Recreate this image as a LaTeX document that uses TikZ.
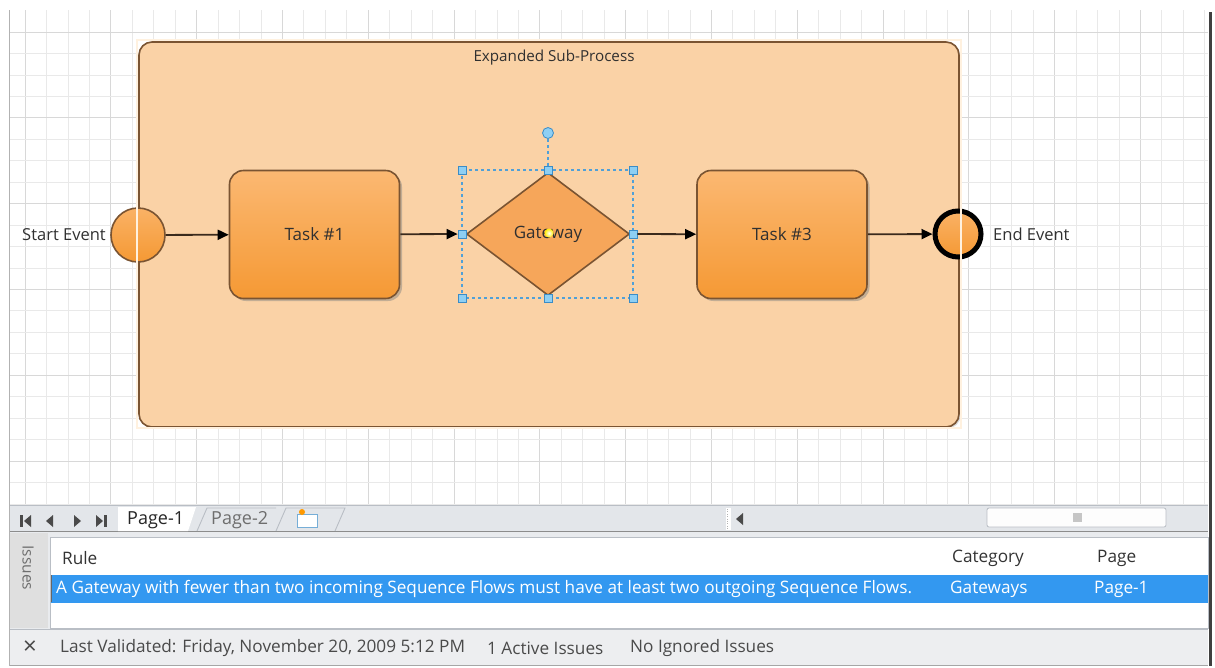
\documentclass[tikz,border=0pt]{standalone}
\usepackage{fontspec}
\setmainfont{Open Sans}
\usetikzlibrary{shapes.geometric,arrows.meta,shadows,calc}
\definecolor{gridminor}{HTML}{E9E9E9}
\definecolor{gridmajor}{HTML}{D8D8D8}
\definecolor{subfill}{HTML}{FAD2A6}
\definecolor{brown}{HTML}{7A5432}
\definecolor{flow}{HTML}{3A2A1C}
\definecolor{tasktop}{HTML}{FBB872}
\definecolor{taskbot}{HTML}{F59934}
\definecolor{gwfill}{HTML}{F6A65A}
\definecolor{selblue}{HTML}{4FA0D8}
\definecolor{handlefill}{HTML}{8ECFF3}
\definecolor{handledraw}{HTML}{3B8CC6}
\definecolor{labelgray}{HTML}{303030}
\definecolor{uibar}{HTML}{E3E6EA}
\definecolor{uiline}{HTML}{B9BEC5}
\definecolor{rowblue}{HTML}{3398F0}
\definecolor{statusbg}{HTML}{EDEEF0}
\definecolor{uitext}{HTML}{4A4A4A}
\definecolor{boxlight}{HTML}{FFF1DF}
\tikzset{
  flowline/.style={draw=flow, line width=1.8pt, -{Triangle[length=11pt,width=10pt,fill=black,color=black]}},
  taskbox/.style={rectangle, rounded corners=14pt, draw=brown, line width=1.6pt,
    top color=tasktop, bottom color=taskbot, minimum width=170pt, minimum height=128pt,
    font=\fontsize{17}{19}\selectfont, text=labelgray,
    drop shadow={opacity=0.45, shadow xshift=2.5pt, shadow yshift=-2.5pt}},
  eventbase/.style={circle, inner sep=0pt, top color=tasktop!80!taskbot, bottom color=taskbot},
  handle/.style={rectangle, draw=handledraw, fill=handlefill, line width=0.8pt, minimum size=8pt, inner sep=0pt},
  difflabel/.style={font=\fontsize{16.5}{18}\selectfont, text=labelgray},
  uilabel/.style={font=\fontsize{17.2}{19}\selectfont, text=uitext, anchor=west, inner sep=0pt},
}
\begin{document}
\begin{tikzpicture}[x=1pt,y=-1pt]
\useasboundingbox (0,0) rectangle (1215,667);
\fill[white] (0,0) rectangle (1215,667);
% drawing page grid
\foreach \i in {0,...,55}{
  \pgfmathsetmacro\xx{25+21.45*\i}
  \pgfmathtruncatemacro\mm{mod(\i,4)}
  \ifnum\mm=0 \draw[gridmajor,line width=0.8pt] (\xx,10) -- (\xx,505);
  \else \draw[gridminor,line width=0.8pt] (\xx,10) -- (\xx,505); \fi
}
\foreach \j in {0,...,22}{
  \pgfmathsetmacro\yy{32+21.45*\j}
  \pgfmathtruncatemacro\mm{mod(\j,4)}
  \ifnum\mm=0 \draw[gridmajor,line width=0.8pt] (10,\yy) -- (1208,\yy);
  \else \draw[gridminor,line width=0.8pt] (10,\yy) -- (1208,\yy); \fi
}
% window edges
\draw[gray!60, line width=1.5pt] (9.5,10) -- (9.5,666);
\draw[black!75, line width=3pt] (1210,12) -- (1210,666);

% expanded sub-process
\node[rectangle, rounded corners=13pt, draw=brown, line width=1.6pt, fill=subfill,
  minimum width=820pt, minimum height=385pt,
  drop shadow={opacity=0.3, shadow xshift=1.5pt, shadow yshift=-1.5pt}] (sub) at (549,234.5) {};
\node[font=\fontsize{15.2}{17}\selectfont, text=labelgray, anchor=center] (sublabel) at (554,58) {Expanded Sub-Process};

% events
\node[eventbase, draw=brown, line width=1.6pt, minimum size=54pt] (start) at (138,235) {};
\node[difflabel, anchor=east, inner sep=0pt] (startlabel) at (106,235) {Start Event};
\node[eventbase, draw=black, line width=5pt, minimum size=46pt] (end) at (958,234) {};
\node[difflabel, anchor=west, inner sep=0pt] (endlabel) at (993,234) {End Event};

% tasks
\node[taskbox] (t1) at (314.5,234.5) {Task \#1};
\node[taskbox] (t3) at (782,234.5) {Task \#3};

% gateway
\node[diamond, draw=brown, line width=1.6pt, fill=gwfill, inner sep=0pt,
  minimum width=163pt, minimum height=123pt, font=\fontsize{17}{19}\selectfont, text=labelgray] (gw) at (548,234) {Gateway};

% selection box of the gateway
\coordinate (snw) at (462,170);
\coordinate (sse) at (633,298);
\draw[selblue, line width=1.1pt, dash pattern=on 3pt off 3pt] (snw) rectangle (sse);
\node[circle, draw=handledraw, fill=handlefill, line width=0.8pt, minimum size=11pt, inner sep=0pt] (rot) at (548,133) {};
\node[handle] (hn) at (548,170) {};
\draw[selblue, line width=1.1pt, dash pattern=on 3pt off 3pt] (rot) -- (hn);
\node[handle] (hnw) at (462,170) {};
\node[handle] (hne) at (633,170) {};
\node[handle] (hw) at (462,234) {};
\node[handle] (he) at (633,234) {};
\node[handle] (hsw) at (462,298) {};
\node[handle] (hs) at (548,298) {};
\node[handle] (hse) at (633,298) {};
\node[circle, inner sep=0pt, minimum size=9pt, inner color=white, outer color=yellow!85!orange] (pin) at (549,233) {};

% sequence flows
\draw[flowline] (start) -- (t1);
\draw[flowline] (t1) -- (hw);
\draw[flowline] (he) -- (t3);
\draw[flowline] (t3) -- (end);

% alignment box of the sub-process
\draw[boxlight, line width=1.3pt] (137,40) rectangle (961,428);

% ---------- page tabs ----------
\fill[uibar] (10,505) rectangle (1208,532);
\draw[uiline, line width=0.8pt] (10,505.5) -- (1208,505.5);
\draw[black!45, line width=1.5pt] (10,531.5) -- (1208,531.5);
\fill[uitext] (20,515) rectangle (23,527);
\fill[uitext] (24,521) -- (31,515) -- (31,527) -- cycle;
\fill[uitext] (46,521) -- (53,515) -- (53,527) -- cycle;
\fill[uitext] (81,521) -- (74,515) -- (74,527) -- cycle;
\fill[uitext] (103,521) -- (96,515) -- (96,527) -- cycle;
\fill[uitext] (104,515) rectangle (107,527);
\fill[white] (118,507) -- (196,507) -- (188,531) -- (118,531) -- cycle;
\node[font=\fontsize{18}{20}\selectfont, text=black!85, anchor=west, inner sep=0pt] (p1) at (127,520) {Page-1};
\draw[uiline, line width=0.9pt] (197,531) -- (207,508) -- (276,508);
\node[font=\fontsize{18}{20}\selectfont, text=uitext!80, anchor=west, inner sep=0pt] (p2) at (211,520) {Page-2};
\draw[uiline, line width=0.9pt] (276,531) -- (286,508) -- (345,508) -- (335,531);
\fill[white] (297,514) rectangle (317,527);
\draw[handledraw!70, line width=0.8pt] (297,514) rectangle (317,527);
\fill[orange!80!yellow] (302,512) circle (3pt);
% scroll area
\fill[white] (726,508) rectangle (731,530);
\draw[gray!60, dotted] (727,509) -- (727,529);
\fill[uitext] (736,519) -- (743,513) -- (743,525) -- cycle;
\draw[uiline, line width=0.8pt, fill=white!92!uibar, rounded corners=2pt] (987,508) rectangle (1166,527);
\fill[gray!45] (1073,513) rectangle (1082,522);

% ---------- issues window ----------
\fill[uibar!80!white] (10,532) rectangle (1208,666);
\fill[gray!25] (10,533) rectangle (48,628);
\node[rotate=-90, font=\fontsize{15.5}{17}\selectfont, text=uitext!80, inner sep=0pt] (issues) at (28,568) {Issues};
\fill[white] (50,537) rectangle (1208,628);
\draw[uiline, line width=0.8pt] (50,537) rectangle (1208,628);
\node[uilabel, text=black!80] (hrule) at (62,558) {Rule};
\node[uilabel, text=black!80] (hcat) at (952,558) {Category};
\node[uilabel, text=black!80] (hpage) at (1097,558) {Page};
\draw[rowblue, fill=rowblue] (51,575) rectangle (1207,602);
\draw[black!60, line width=1pt] (51,575) -- (51,602);
\node[uilabel, text=white] (rule) at (56,589) {A Gateway with fewer than two incoming Sequence Flows must have at least two outgoing Sequence Flows.};
\node[uilabel, text=white] (cat) at (950,589) {Gateways};
\node[uilabel, text=white] (page) at (1094,589) {Page-1};
% status bar
\fill[statusbg] (10,630) rectangle (1208,665);
\draw[uiline, line width=0.8pt] (10,629.5) -- (1208,629.5);
\draw[gray!70, line width=1pt] (10,665.5) -- (1208,665.5);
\node[font=\fontsize{24}{26}\selectfont, text=uitext, inner sep=0pt] (close) at (30,648) {×};
\node[uilabel] (lastval) at (60,648) {Last Validated: Friday, November 20, 2009 5:12 PM};
\node[uilabel] (active) at (487,648) {1 Active Issues};
\node[uilabel] (ignored) at (630,648) {No Ignored Issues};
\end{tikzpicture}
\end{document}
